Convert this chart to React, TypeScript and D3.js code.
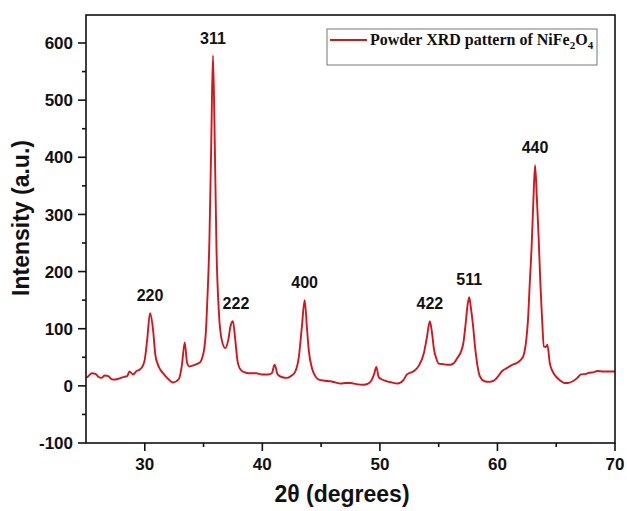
import React from "react";
import * as d3 from "d3";

const twoTheta = [
  25.0, 25.2, 25.5, 25.8, 26.05, 26.3, 26.6, 26.9, 27.1, 27.3, 27.7, 28.1, 28.5, 28.7, 29.0, 29.3, 29.6, 29.85, 30.0, 30.2, 30.45, 30.7, 30.9, 31.1, 31.3, 31.6, 31.9, 32.4, 32.9, 33.15, 33.4, 33.6, 33.8, 34.0, 34.4, 34.7, 34.9, 35.05, 35.2, 35.3, 35.5, 35.65, 35.8, 35.95, 36.1, 36.3, 36.55, 36.85, 37.1, 37.3, 37.5, 37.7, 37.9, 38.2, 38.6, 39.0, 39.5, 40.0, 40.5, 40.8, 41.05, 41.3, 41.7, 42.1, 42.5, 42.8, 43.1, 43.35, 43.6, 43.8, 43.95, 44.25, 44.5, 44.8, 45.3, 45.8, 46.2, 46.65, 47.1, 47.5, 48.0, 48.6, 49.0, 49.3, 49.5, 49.7, 49.9, 50.1, 50.6, 51.0, 51.5, 52.0, 52.3, 52.9, 53.3, 53.75, 54.0, 54.25, 54.45, 54.6, 54.8, 55.0, 55.4, 55.7, 56.0, 56.3, 56.6, 56.9, 57.1, 57.3, 57.45, 57.6, 57.75, 57.9, 58.15, 58.5, 58.9, 59.3, 59.7, 60.1, 60.4, 60.8, 61.1, 61.4, 61.65, 62.0, 62.2, 62.45, 62.6, 62.75, 62.9, 63.05, 63.2, 63.35, 63.5, 63.65, 63.8, 63.95, 64.1, 64.25, 64.45, 64.7, 64.95, 65.3, 65.7, 66.0, 66.4, 66.8, 67.1, 67.5, 67.8, 68.2, 68.5, 69.0, 69.4, 69.9, 70.0,
];

const intensity = [
  14, 17, 22, 21, 16, 14, 18, 17, 13, 11, 12, 15, 17, 25, 20, 26, 29, 36, 46, 80, 127, 99, 54, 38, 29, 21, 14, 6, 12, 35, 76, 40, 34, 35, 38, 41, 50, 64, 95, 140, 256, 420, 578, 430, 240, 130, 80, 66, 80, 105, 113, 80, 42, 27, 23, 22, 22, 20, 20, 22, 37, 20, 15, 14, 18, 25, 50, 100, 150, 100, 62, 29, 17, 11, 9, 8, 6, 4, 5, 5, 3, 2, 4, 10, 20, 33, 15, 12, 8, 6, 4, 10, 20, 26, 35, 58, 85, 113, 90, 64, 48, 39, 38, 37, 37, 40, 49, 60, 75, 110, 140, 155, 135, 110, 58, 17, 8, 7, 9, 18, 26, 31, 35, 38, 40, 46, 52, 80, 116, 180, 240, 320, 386, 330, 262, 180, 116, 69, 68, 72, 40, 25, 17, 10, 5, 5, 8, 14, 20, 21, 23, 24, 26, 25, 25, 25, 25,
];

const peakLabels = ["220", "311", "222", "400", "422", "511", "440"];
const peakX = [30.45, 35.8, 37.5, 43.6, 54.25, 57.6, 63.2];
const peakY = [127, 578, 113, 150, 113, 155, 386];

const xTicks = [30, 40, 50, 60, 70];
const xMinorTicks = [35, 45, 55, 65];
const yTicks = [-100, 0, 100, 200, 300, 400, 500, 600];
const yMinorTicks = [-50, 50, 150, 250, 350, 450, 550];

const W = 627;
const H = 511;
const L = 86;
const R = 615;
const T = 15;
const B = 443;

export default function App() {
  const x = d3.scaleLinear().domain([25, 70]).range([L, R]);
  const y = d3.scaleLinear().domain([-100, 649]).range([B, T]);
  const pts: [number, number][] = twoTheta.map((t, i) => [t, intensity[i]]);
  const line = d3
    .line<[number, number]>()
    .x((d) => x(d[0]))
    .y((d) => y(d[1]))
    .curve(d3.curveMonotoneX);

  const sans = "'Liberation Sans', Arial, sans-serif";
  const serif = "'Liberation Serif', 'Times New Roman', serif";
  const red = "#d4161c";

  return (
    <svg
      width={W}
      height={H}
      style={{ position: "absolute", left: 0, top: 0, background: "#fff" }}
    >
      <rect x={0} y={0} width={W} height={H} fill="#fff" />
      <defs>
        <clipPath id="plotclip">
          <rect x={L} y={T} width={R - L} height={B - T} />
        </clipPath>
      </defs>
      <path
        d={line(pts) || ""}
        fill="none"
        stroke={red}
        strokeWidth={1.9}
        strokeLinejoin="round"
        clipPath="url(#plotclip)"
      />
      {/* frame */}
      <rect
        x={L}
        y={T}
        width={R - L}
        height={B - T}
        fill="none"
        stroke="#111"
        strokeWidth={1.6}
      />
      {/* x ticks */}
      {xTicks.map((t) => (
        <g key={"xt" + t}>
          <line x1={x(t)} x2={x(t)} y1={B} y2={B + 8} stroke="#111" strokeWidth={1.6} />
          <text
            x={x(t)}
            y={470}
            textAnchor="middle"
            fontFamily={sans}
            fontWeight="bold"
            fontSize={17}
            fill="#111"
          >
            {t}
          </text>
        </g>
      ))}
      {xMinorTicks.map((t) => (
        <line key={"xm" + t} x1={x(t)} x2={x(t)} y1={B} y2={B + 4} stroke="#111" strokeWidth={1.6} />
      ))}
      {/* y ticks */}
      {yTicks.map((t) => (
        <g key={"yt" + t}>
          <line x1={L - 8} x2={L} y1={y(t)} y2={y(t)} stroke="#111" strokeWidth={1.6} />
          <text
            x={73}
            y={y(t)}
            dy="0.36em"
            textAnchor="end"
            fontFamily={sans}
            fontWeight="bold"
            fontSize={17}
            fill="#111"
          >
            {t}
          </text>
        </g>
      ))}
      {yMinorTicks.map((t) => (
        <line key={"ym" + t} x1={L - 4} x2={L} y1={y(t)} y2={y(t)} stroke="#111" strokeWidth={1.6} />
      ))}
      {/* axis titles */}
      <text
        x={342}
        y={502}
        textAnchor="middle"
        fontFamily={sans}
        fontWeight="bold"
        fontSize={23}
        fill="#111"
      >
        2θ (degrees)
      </text>
      <text
        transform={`translate(29, 218) rotate(-90)`}
        textAnchor="middle"
        fontFamily={sans}
        fontWeight="bold"
        fontSize={23}
        fill="#111"
      >
        Intensity (a.u.)
      </text>
      {/* peak labels */}
      {peakLabels.map((lab, i) => (
        <text
          key={lab}
          x={x(peakX[i]) + (lab === "222" ? 3 : 0)}
          y={y(peakY[i]) - 12}
          textAnchor="middle"
          fontFamily={sans}
          fontWeight="bold"
          fontSize={16}
          fill="#111"
        >
          {lab}
        </text>
      ))}
      {/* legend */}
      <rect x={327} y={29} width={270} height={36} fill="#fff" stroke="#777" strokeWidth={1} />
      <line x1={330} x2={367} y1={40} y2={40} stroke={red} strokeWidth={2} />
      <text x={370} y={45} fontFamily={serif} fontWeight="bold" fontSize={16} fill="#111">
        Powder XRD pattern of NiFe
        <tspan fontSize={11} dy={4}>2</tspan>
        <tspan dy={-4}>O</tspan>
        <tspan fontSize={11} dy={4}>4</tspan>
      </text>
    </svg>
  );
}
